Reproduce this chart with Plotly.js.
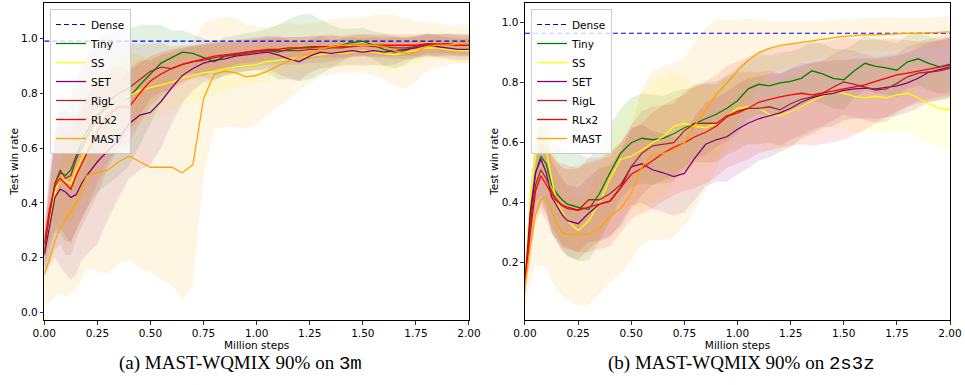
<!DOCTYPE html>
<html><head><meta charset="utf-8">
<script src="https://cdn.plot.ly/plotly-3.0.1.min.js"></script>
<style>html,body{margin:0;padding:0;background:#fff}#chart{width:965px;height:385px}</style>
</head><body><div id="chart"></div>
<script>
// ---------- DATA ----------
const steps = [0,0.025,0.05,0.075,0.1,0.125,0.15,0.175,0.2,0.25,0.3,0.35,0.4,0.45,0.5,0.55,0.6,0.65,0.7,0.75,0.8,0.85,0.9,0.95,1.0,1.05,1.1,1.15,1.2,1.25,1.3,1.35,1.4,1.45,1.5,1.55,1.6,1.65,1.7,1.75,1.8,1.85,1.9,1.95,2.0];
const xTickVals = [0,0.25,0.5,0.75,1.0,1.25,1.5,1.75,2.0];
const seriesNames = ['Tiny','SS','SET','RigL','RLx2','MAST'];

// 3m
const dense3m = 0.99;
const tiny3m = [0.22,0.35,0.47,0.51,0.50,0.52,0.57,0.62,0.66, 0.72,0.75,0.77,0.785,0.83,0.87,0.91,0.93,0.95,0.945, 0.93,0.915,0.935,0.94,0.95, 0.955,0.955,0.95,0.96,0.965,0.97,0.97,0.97,0.975,0.985, 0.99,0.975,0.96,0.95,0.955,0.97,0.98,0.975,0.98,0.975,0.975];
const tiny3mSd = [0.06,0.12,0.18,0.22,0.24,0.26,0.27,0.28,0.28, 0.28,0.28,0.27,0.25,0.22,0.18,0.14,0.10,0.08,0.07, 0.07,0.07,0.07,0.07,0.07, 0.07,0.08,0.10,0.11,0.12,0.12,0.10,0.08,0.06,0.05, 0.05,0.05,0.06,0.06,0.05,0.04,0.04,0.04,0.04,0.04,0.04];
const ss3m = [0.22,0.33,0.44,0.49,0.48,0.47,0.52,0.56,0.60, 0.69,0.74,0.77,0.79,0.81,0.82,0.83,0.84,0.855,0.865, 0.875,0.88,0.89,0.895,0.90, 0.905,0.915,0.92,0.925,0.93,0.935,0.94,0.945,0.945,0.95, 0.955,0.95,0.945,0.94,0.95,0.955,0.965,0.965,0.96,0.955,0.955];
const ss3mSd = [0.06,0.10,0.13,0.15,0.15,0.15,0.15,0.15,0.15, 0.15,0.14,0.13,0.12,0.12,0.12,0.11,0.10,0.10,0.10, 0.09,0.09,0.08,0.08,0.07, 0.07,0.07,0.06,0.06,0.06,0.06,0.05,0.05,0.05,0.05, 0.05,0.05,0.06,0.06,0.05,0.05,0.04,0.04,0.04,0.05,0.05];
const set3m = [0.21,0.32,0.42,0.45,0.44,0.42,0.43,0.47,0.50, 0.55,0.59,0.63,0.69,0.72,0.73,0.77,0.82,0.865,0.89, 0.91,0.92,0.925,0.935,0.94, 0.945,0.95,0.94,0.925,0.915,0.935,0.95,0.945,0.95,0.955, 0.95,0.955,0.95,0.955,0.96,0.965,0.975,0.97,0.965,0.96,0.96];
const set3mSd = [0.07,0.15,0.22,0.28,0.30,0.30,0.29,0.28,0.29, 0.30,0.25,0.21,0.20,0.20,0.19,0.17,0.13,0.10,0.08, 0.07,0.07,0.06,0.06,0.06, 0.06,0.06,0.07,0.07,0.07,0.06,0.06,0.05,0.05,0.05, 0.05,0.05,0.05,0.05,0.04,0.04,0.04,0.04,0.04,0.04,0.04];
const rigl3m = [0.22,0.36,0.47,0.52,0.49,0.50,0.56,0.60,0.64, 0.71,0.77,0.80,0.82,0.85,0.88,0.895,0.89,0.905,0.915, 0.92,0.93,0.935,0.94,0.945, 0.95,0.955,0.955,0.955,0.955,0.96,0.96,0.965,0.965,0.97, 0.975,0.97,0.97,0.965,0.965,0.97,0.975,0.975,0.975,0.975,0.975];
const rigl3mSd = [0.08,0.18,0.24,0.27,0.28,0.29,0.29,0.29,0.29, 0.28,0.24,0.20,0.16,0.13,0.10,0.09,0.08,0.07,0.06, 0.06,0.05,0.05,0.05,0.05, 0.05,0.05,0.05,0.05,0.05,0.05,0.05,0.05,0.04,0.04, 0.04,0.04,0.04,0.04,0.04,0.04,0.04,0.04,0.04,0.04,0.04];
const rlx23m = [0.25,0.38,0.46,0.49,0.47,0.45,0.50,0.54,0.58, 0.66,0.72,0.75,0.75,0.80,0.845,0.87,0.89,0.905,0.915, 0.925,0.935,0.94,0.945,0.95, 0.955,0.96,0.96,0.965,0.965,0.965,0.97,0.97,0.97,0.975, 0.975,0.975,0.975,0.975,0.975,0.975,0.98,0.98,0.98,0.975,0.975];
const rlx23mSd = [0.06,0.12,0.16,0.18,0.19,0.20,0.20,0.20,0.20, 0.19,0.17,0.15,0.13,0.11,0.09,0.08,0.07,0.06,0.06, 0.05,0.05,0.05,0.04,0.04, 0.04,0.04,0.04,0.04,0.04,0.04,0.04,0.04,0.04,0.04, 0.04,0.04,0.04,0.04,0.04,0.04,0.035,0.035,0.035,0.035,0.035];
const mast3m = [0.137,0.20,0.26,0.31,0.34,0.37,0.40,0.45,0.50, 0.51,0.52,0.55,0.57,0.55,0.53,0.53,0.53,0.51,0.54, 0.78,0.87,0.88,0.875,0.86, 0.865,0.88,0.90,0.915,0.93,0.945,0.96,0.97,0.975,0.975, 0.975,0.975,0.97,0.955,0.945,0.95,0.97,0.975,0.975,0.98,0.98];
const mast3mSd = [0.11,0.16,0.20,0.24,0.28,0.30,0.32,0.33,0.34, 0.36,0.38,0.37,0.38,0.39,0.38,0.41,0.43,0.46,0.44, 0.28,0.20,0.20,0.20,0.19, 0.18,0.16,0.15,0.14,0.12,0.11,0.10,0.10,0.10,0.10, 0.10,0.11,0.12,0.13,0.13,0.11,0.09,0.08,0.07,0.07,0.07];

// 2s3z
const dense2s3z = 0.965;
const tiny2s3z = [0.13,0.35,0.50,0.555,0.53,0.46,0.43,0.41,0.395, 0.385,0.378,0.43,0.50,0.565,0.60,0.615,0.61,0.615,0.63, 0.65,0.665,0.68,0.695,0.715, 0.74,0.78,0.795,0.79,0.80,0.805,0.815,0.84,0.83,0.815, 0.81,0.84,0.865,0.855,0.85,0.842,0.87,0.88,0.865,0.853,0.862];
const tiny2s3zSd = [0.04,0.10,0.13,0.15,0.16,0.16,0.16,0.17,0.17, 0.18,0.17,0.16,0.16,0.15,0.15,0.15,0.15,0.14,0.14, 0.13,0.12,0.12,0.11,0.11, 0.11,0.10,0.10,0.10,0.10,0.10,0.10,0.10,0.10,0.10, 0.10,0.09,0.09,0.09,0.09,0.09,0.09,0.09,0.09,0.09,0.09];
const ss2s3z = [0.13,0.42,0.56,0.61,0.58,0.48,0.40,0.37,0.34, 0.307,0.34,0.40,0.48,0.545,0.555,0.575,0.60,0.62,0.655, 0.665,0.655,0.65,0.665,0.69, 0.715,0.72,0.715,0.695,0.69,0.705,0.72,0.74,0.755,0.77, 0.765,0.755,0.75,0.755,0.75,0.76,0.765,0.75,0.73,0.715,0.71];
const ss2s3zSd = [0.05,0.10,0.12,0.12,0.12,0.12,0.12,0.12,0.11, 0.10,0.10,0.12,0.14,0.16,0.18,0.19,0.20,0.20,0.18, 0.16,0.14,0.13,0.12,0.12, 0.12,0.12,0.12,0.12,0.12,0.12,0.12,0.12,0.12,0.12, 0.12,0.12,0.12,0.12,0.12,0.12,0.13,0.13,0.13,0.13,0.13];
const set2s3z = [0.13,0.37,0.50,0.545,0.50,0.42,0.39,0.36,0.34, 0.33,0.365,0.395,0.405,0.45,0.52,0.53,0.51,0.50,0.487, 0.498,0.55,0.595,0.61,0.62, 0.645,0.665,0.68,0.69,0.70,0.715,0.735,0.75,0.76,0.765, 0.775,0.78,0.782,0.78,0.785,0.79,0.80,0.815,0.835,0.845,0.853];
const set2s3zSd = [0.04,0.08,0.10,0.12,0.12,0.12,0.12,0.12,0.12, 0.12,0.12,0.12,0.12,0.12,0.13,0.13,0.13,0.13,0.13, 0.13,0.14,0.14,0.14,0.15, 0.15,0.15,0.14,0.14,0.13,0.13,0.12,0.12,0.11,0.11, 0.10,0.10,0.10,0.10,0.10,0.10,0.10,0.10,0.10,0.10,0.10];
const rigl2s3z = [0.13,0.33,0.46,0.51,0.48,0.44,0.41,0.39,0.38, 0.375,0.41,0.41,0.43,0.46,0.52,0.565,0.59,0.595,0.60, 0.64,0.665,0.665,0.665,0.69, 0.705,0.715,0.715,0.72,0.71,0.73,0.745,0.753,0.765,0.785, 0.803,0.795,0.785,0.776,0.78,0.798,0.82,0.832,0.836,0.84,0.848];
const rigl2s3zSd = [0.04,0.08,0.10,0.12,0.12,0.12,0.12,0.13,0.13, 0.14,0.14,0.14,0.14,0.14,0.14,0.14,0.13,0.13,0.13, 0.13,0.13,0.13,0.13,0.13, 0.13,0.12,0.12,0.12,0.12,0.12,0.12,0.11,0.11,0.11, 0.11,0.11,0.11,0.11,0.11,0.10,0.10,0.10,0.10,0.10,0.10];
const rlx22s3z = [0.13,0.30,0.44,0.49,0.46,0.43,0.405,0.392,0.385, 0.375,0.385,0.395,0.405,0.45,0.495,0.515,0.54,0.565,0.585, 0.60,0.62,0.635,0.655,0.687, 0.70,0.715,0.735,0.745,0.753,0.76,0.765,0.76,0.765,0.772, 0.78,0.786,0.793,0.805,0.815,0.826,0.832,0.838,0.846,0.852,0.859];
const rlx22s3zSd = [0.04,0.08,0.10,0.12,0.12,0.13,0.13,0.14,0.14, 0.14,0.15,0.15,0.15,0.15,0.15,0.15,0.16,0.16,0.16, 0.16,0.17,0.17,0.17,0.17, 0.17,0.17,0.17,0.17,0.17,0.17,0.17,0.17,0.17,0.17, 0.17,0.16,0.15,0.14,0.13,0.12,0.11,0.10,0.10,0.10,0.10];
const mast2s3z = [0.12,0.25,0.36,0.41,0.42,0.37,0.33,0.30,0.295, 0.292,0.295,0.315,0.355,0.38,0.43,0.52,0.56,0.565,0.575, 0.60,0.66,0.71,0.76,0.80, 0.84,0.875,0.90,0.915,0.925,0.93,0.935,0.94,0.945,0.95, 0.955,0.957,0.96,0.96,0.962,0.963,0.965,0.965,0.967,0.968,0.97];
const mast2s3zSd = [0.07,0.12,0.17,0.22,0.24,0.23,0.22,0.21,0.22, 0.235,0.235,0.22,0.22,0.22,0.22,0.26,0.28,0.29,0.29, 0.28,0.28,0.27,0.25,0.21, 0.17,0.14,0.11,0.09,0.08,0.075,0.07,0.065,0.06,0.06, 0.055,0.055,0.055,0.055,0.055,0.055,0.05,0.05,0.05,0.05,0.05];

// ---------- STYLE ----------
const rgb = {Tiny:'0,128,0', SS:'255,255,0', SET:'128,0,128', RigL:'165,42,42', RLx2:'255,0,0', MAST:'255,165,0'};
const bandAlpha = 0.11;
const lineW = 1.3;

function panelTraces(xa, ya, legendId, dense, means, sds){
  const out = [];
  seriesNames.forEach((n,i)=>{
    const lo = means[i].map((v,k)=>v - sds[i][k]);
    const hi = means[i].map((v,k)=>v + sds[i][k]);
    out.push({x:steps, y:lo, xaxis:xa, yaxis:ya, mode:'lines', line:{width:0,color:'rgba(0,0,0,0)'}, showlegend:false, hoverinfo:'skip', legend:legendId});
    out.push({x:steps, y:hi, xaxis:xa, yaxis:ya, mode:'lines', fill:'tonexty', fillcolor:`rgba(${rgb[n]},${bandAlpha})`, line:{width:0,color:'rgba(0,0,0,0)'}, showlegend:false, hoverinfo:'skip', legend:legendId});
  });
  out.push({x:[steps[0], steps[steps.length-1]], y:[dense, dense], xaxis:xa, yaxis:ya, mode:'lines', name:'Dense', line:{color:'blue', width:1.1, dash:'5px,3px'}, legend:legendId});
  seriesNames.forEach((n,i)=>{
    out.push({x:steps, y:means[i], xaxis:xa, yaxis:ya, mode:'lines', name:n, line:{color:`rgb(${rgb[n]})`, width:lineW}, legend:legendId});
  });
  return out;
}

const traces = [].concat(
  panelTraces('x','y','legend', dense3m, [tiny3m,ss3m,set3m,rigl3m,rlx23m,mast3m], [tiny3mSd,ss3mSd,set3mSd,rigl3mSd,rlx23mSd,mast3mSd]),
  panelTraces('x2','y2','legend2', dense2s3z, [tiny2s3z,ss2s3z,set2s3z,rigl2s3z,rlx22s3z,mast2s3z], [tiny2s3zSd,ss2s3zSd,set2s3zSd,rigl2s3zSd,rlx22s3zSd,mast2s3zSd])
);

const tickFont = {family:'DejaVu Sans', size:10.5, color:'#000'};
const axisBase = {showline:true, mirror:true, linecolor:'#000', linewidth:1, ticks:'outside', ticklen:3.5, tickwidth:0.8, tickcolor:'#000', showgrid:false, zeroline:false, tickfont:tickFont, automargin:false};
const xBase = Object.assign({}, axisBase, {range:[0,2], tickvals:xTickVals, tickformat:'.2f', title:{text:'Million steps', font:tickFont, standoff:0}});
const yBase = Object.assign({}, axisBase, {dtick:0.2, tick0:0, tickformat:'.1f', title:{text:'Test win rate', font:tickFont, standoff:0}});
const yDom = [0.1688, 0.9922];
const legBase = {xanchor:'left', yanchor:'top', y:0.9766, traceorder:'normal', bgcolor:'rgba(255,255,255,0.8)', bordercolor:'#cccccc', borderwidth:1, font:{family:'DejaVu Sans', size:10.5, color:'#000'}, tracegroupgap:0};

const capFont = {family:'Liberation Serif', size:19, color:'#000'};
const layout = {
  width:965, height:385, margin:{l:0,r:0,t:0,b:0}, paper_bgcolor:'#fff', plot_bgcolor:'#fff', showlegend:true,
  xaxis: Object.assign({}, xBase, {domain:[0.0459,0.486], anchor:'y'}),
  yaxis: Object.assign({}, yBase, {domain:yDom, range:[-0.027,1.129], anchor:'x'}),
  xaxis2: Object.assign({}, xBase, {domain:[0.544,0.9845], anchor:'y2'}),
  yaxis2: Object.assign({}, yBase, {domain:yDom, range:[0.009,1.066], anchor:'x2'}),
  legend: Object.assign({}, legBase, {x:0.0518}),
  legend2: Object.assign({}, legBase, {x:0.5503}),
  annotations:[
    {xref:'paper', yref:'paper', x:240/965, y:1-363/385, xanchor:'center', yanchor:'middle', showarrow:false, font:capFont,
     text:'(a) MAST-WQMIX 90% on <span style="font-family:Liberation Mono">3m</span>'},
    {xref:'paper', yref:'paper', x:741/965, y:1-363/385, xanchor:'center', yanchor:'middle', showarrow:false, font:capFont,
     text:'(b) MAST-WQMIX 90% on <span style="font-family:Liberation Mono">2s3z</span>'}
  ]
};
Plotly.newPlot('chart', traces, layout, {staticPlot:true, displayModeBar:false});
</script></body></html>
